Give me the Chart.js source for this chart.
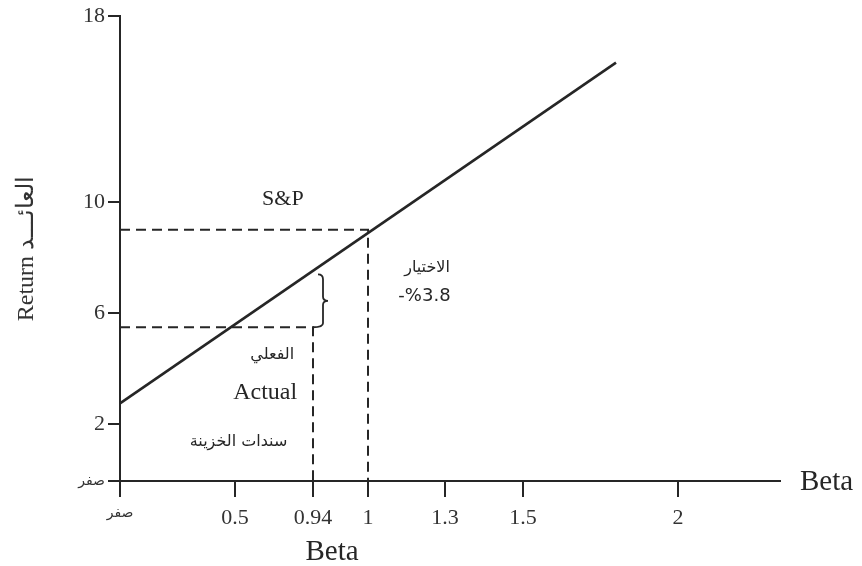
<!DOCTYPE html>
<html>
<head>
<meta charset="utf-8">
<script src="https://cdn.jsdelivr.net/npm/chart.js@4.4.1/dist/chart.umd.min.js"></script>
<style>
body{margin:0;background:#fff;}
canvas{display:block;}
</style>
</head>
<body>
<canvas id="sml" width="862" height="566"></canvas>
<script>
// values (beta on x, return on y)
const xTicks = [0, 0.5, 0.94, 1, 1.3, 1.5, 2];
const yTicks = [0, 2, 6, 10, 18];
const smlBeta = [0, 1.8];
const smlReturn = [2.75, 16];
const marketBeta = [0, 1, 1];
const marketReturn = [9, 9, 0];
const actualBeta = [0, 0.94, 0.94];
const actualReturn = [5.5, 5.5, 0];
const gapRange = [5.5, 7.4];
const zeroLabel = 'صفر';

// the drawing does not space its ticks evenly, so each tick gets its own spot (px from the origin)
const xTickSpots = [0, 115, 193, 248, 325, 403, 558];
const yTickSpots = [0, 57, 168, 280, 466];

const serif = 'Liberation Serif';
const arabic = 'DejaVu Sans';
const ink = '#262626';

function interp(v, from, to){
  let i = 1;
  while(i < from.length - 1 && v > from[i]) i++;
  const a = from[i-1], b = from[i];
  return to[i-1] + (v - a) * (to[i] - to[i-1]) / (b - a);
}

function warpScale(id, vals, spots){
  class WarpScale extends Chart.LinearScale {
    getPixelForValue(value){
      return super.getPixelForValue(interp(value, vals, spots));
    }
    getValueForPixel(pixel){
      return interp(super.getValueForPixel(pixel), spots, vals);
    }
  }
  WarpScale.id = id;
  WarpScale.defaults = Chart.LinearScale.defaults;
  return WarpScale;
}
Chart.register(warpScale('warpX', xTicks, xTickSpots), warpScale('warpY', yTicks, yTickSpots));

function pts(xs, ys){ return xs.map((v, i) => ({x: v, y: ys[i]})); }

// texts placed in (beta, return) terms; ltr ones are laid out glyph by glyph
const notes = [
  {text:'S&P', at:[0.77, 10.1], font:'22px "' + serif + '"'},
  {text:'الاختيار', at:[1.23, 7.65], font:'16px "' + arabic + '"'},
  {text:'-%3.8', at:[1.22, 6.6], font:'18px "' + arabic + '"', ltr:true},
  {text:'الفعلي', at:[0.71, 4.5], font:'16px "' + arabic + '"'},
  {text:'Actual', at:[0.67, 3.15], font:'24px "' + serif + '"'},
  {text:'سندات الخزينة', at:[0.52, 1.37], font:'16px "' + arabic + '"'}
];

function drawLtr(ctx, text, cx, cy){
  const chars = Array.from(text);
  let px = cx - ctx.measureText(text).width / 2;
  ctx.textAlign = 'left';
  chars.forEach(ch => {
    ctx.fillText(ch, px, cy);
    px += ctx.measureText(ch).width;
  });
  ctx.textAlign = 'center';
}

const extras = {
  id:'extras',
  afterDatasetsDraw(chart){
    const {ctx, chartArea, scales:{x, y}} = chart;
    ctx.save();
    ctx.fillStyle = ink;
    ctx.textAlign = 'center';
    ctx.textBaseline = 'middle';
    notes.forEach(n => {
      ctx.font = n.font;
      const px = x.getPixelForValue(n.at[0]), py = y.getPixelForValue(n.at[1]);
      if(n.ltr) drawLtr(ctx, n.text, px, py);
      else ctx.fillText(n.text, px, py);
    });
    ctx.font = '29px "' + serif + '"';
    ctx.textAlign = 'left';
    ctx.fillText('Beta', chartArea.right + 20, chartArea.bottom + 1);
    ctx.textAlign = 'center';
    ctx.fillText('Beta', x.getPixelForValue(0.94) + 19, chartArea.bottom + 71);

    // brace marking the gap between the line and the actual return
    const bx = x.getPixelForValue(actualBeta[1]) + 5;
    const y1 = y.getPixelForValue(gapRange[1]);
    const y2 = y.getPixelForValue(gapRange[0]);
    const ym = (y1 + y2) / 2;
    ctx.strokeStyle = ink;
    ctx.lineWidth = 1.8;
    ctx.beginPath();
    ctx.moveTo(bx, y1);
    ctx.quadraticCurveTo(bx + 5, y1, bx + 5, y1 + 5);
    ctx.lineTo(bx + 5, ym - 4);
    ctx.quadraticCurveTo(bx + 5, ym, bx + 10, ym);
    ctx.quadraticCurveTo(bx + 5, ym, bx + 5, ym + 4);
    ctx.lineTo(bx + 5, y2 - 4);
    ctx.quadraticCurveTo(bx + 5, y2, bx - 5, y2);
    ctx.stroke();
    ctx.restore();
  }
};

new Chart(document.getElementById('sml'), {
  type:'scatter',
  data:{
    datasets:[
      {data:pts(smlBeta, smlReturn), showLine:true, borderColor:ink, borderWidth:2.6, pointRadius:0},
      {data:pts(marketBeta, marketReturn), showLine:true, borderColor:ink, borderWidth:2, borderDash:[10,6], pointRadius:0},
      {data:pts(actualBeta, actualReturn), showLine:true, borderColor:ink, borderWidth:2, borderDash:[10,6], pointRadius:0}
    ]
  },
  options:{
    responsive:false,
    animation:false,
    layout:{padding:{left:0, right:82, top:15, bottom:0}},
    plugins:{legend:{display:false}, tooltip:{enabled:false}},
    scales:{
      x:{
        type:'warpX',
        min:0,
        max:660,
        afterBuildTicks:s => { s.ticks = xTicks.map(v => ({value:v})); },
        afterFit:s => { s.height = 85; },
        border:{display:true, color:ink, width:2},
        grid:{drawOnChartArea:false, drawTicks:true, tickLength:16, color:ink, lineWidth:2},
        ticks:{
          autoSkip:false,
          maxRotation:0,
          padding:8,
          color:'#333',
          font:c => c.tick && c.tick.value === 0 ? {family:arabic, size:14} : {family:serif, size:22},
          callback:v => v === 0 ? zeroLabel : String(v)
        }
      },
      y:{
        type:'warpY',
        min:0,
        max:466,
        afterBuildTicks:s => { s.ticks = yTicks.map(v => ({value:v})); },
        afterFit:s => { s.width = 120; },
        border:{display:true, color:ink, width:2},
        grid:{drawOnChartArea:false, drawTicks:true, tickLength:12, color:ink, lineWidth:2},
        title:{display:true, text:'Return العائـــد', color:'#333', font:{family:serif, size:24}, padding:{top:12, bottom:0}},
        ticks:{
          autoSkip:false,
          padding:3,
          color:'#333',
          font:c => c.tick && c.tick.value === 0 ? {family:arabic, size:14} : {family:serif, size:22},
          callback:v => v === 0 ? zeroLabel : String(v)
        }
      }
    }
  },
  plugins:[extras]
});
</script>
</body>
</html>
